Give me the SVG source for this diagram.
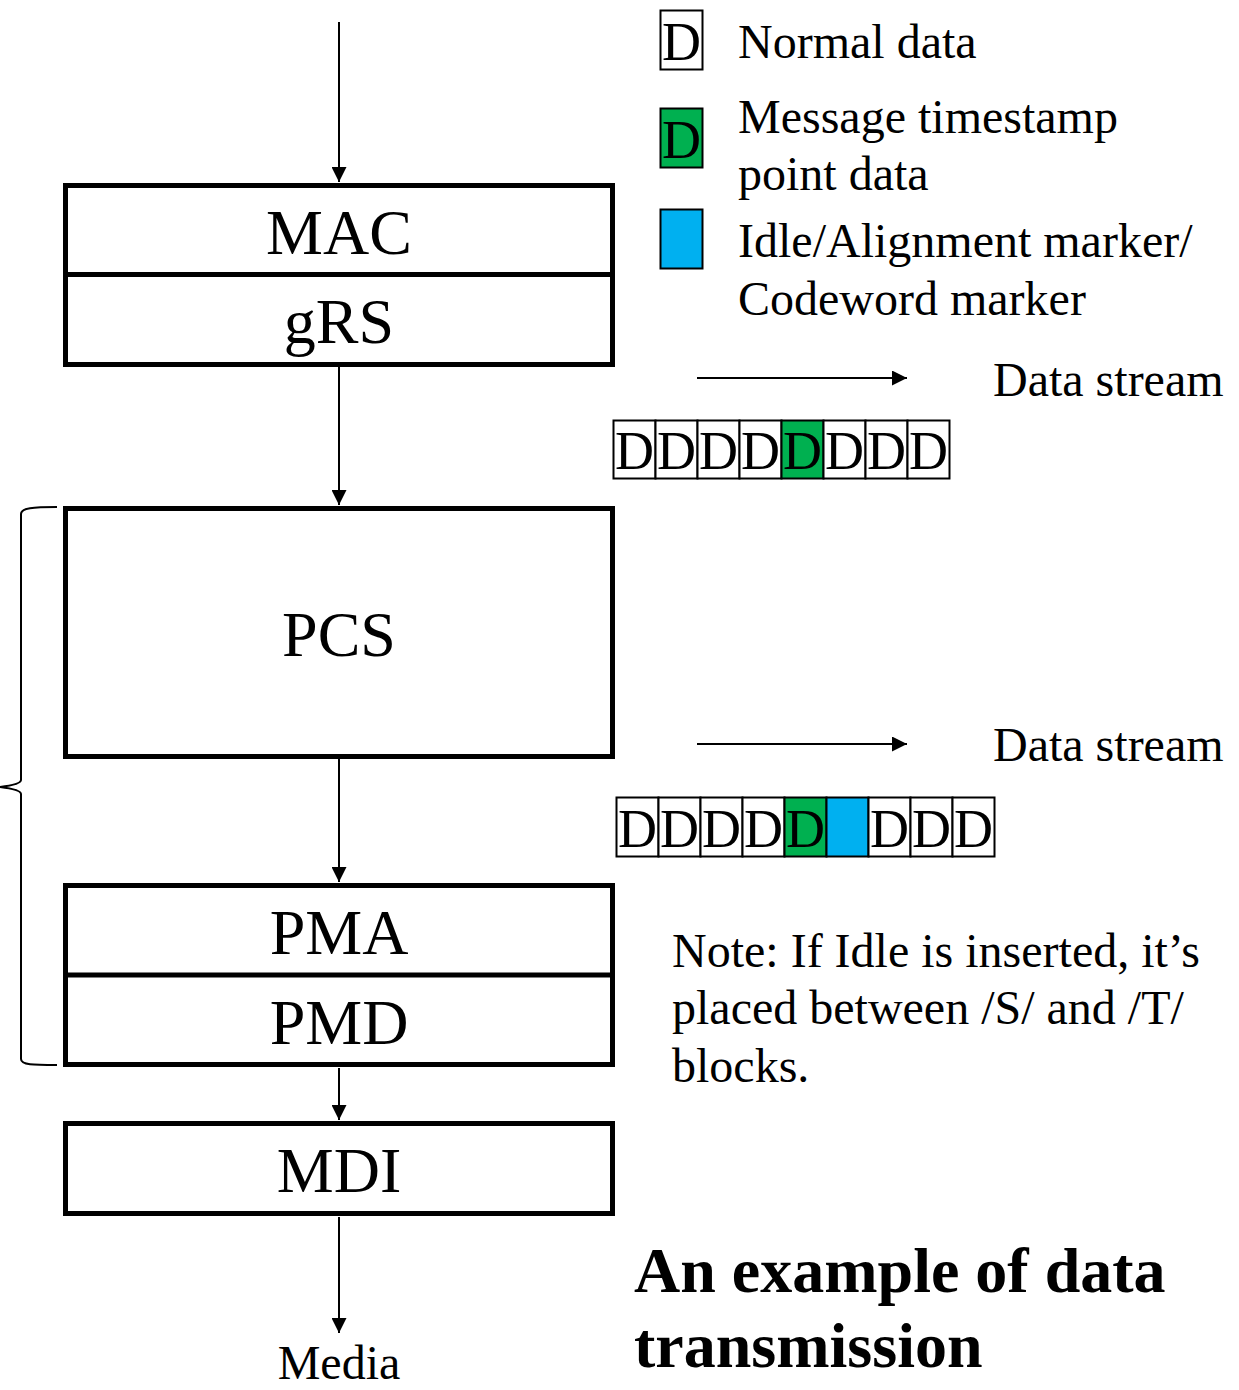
<svg xmlns="http://www.w3.org/2000/svg" width="1239" height="1390" viewBox="0 0 1239 1390">
  <style>
    text { font-family: "Liberation Serif", "Times New Roman", serif; fill: #000; }
    .layer { fill: #fff; stroke: #000; stroke-width: 5; }
    .div { stroke: #000; stroke-width: 5; }
    .lbl { font-size: 64px; text-anchor: middle; }
    .txt { font-size: 48px; }
    .cell { stroke: #000; stroke-width: 2; }
    .cd { font-size: 54px; text-anchor: middle; }
    .conn { stroke: #000; stroke-width: 2; fill: none; }
    .title { font-size: 64px; font-weight: bold; }
  </style>
  <defs>
    <marker id="ah" viewBox="0 0 10 10" refX="10" refY="5" markerWidth="7.5" markerHeight="7.5" markerUnits="strokeWidth" orient="auto">
      <path d="M0,0 L10,5 L0,10 Z" fill="#000"/>
    </marker>
  </defs>
  <rect width="1239" height="1390" fill="#fff"/>

  <!-- vertical links between the layers, plus the two stream-direction arrows -->
  <g id="connectors">
    <line class="conn" x1="339" y1="22" x2="339" y2="182" marker-end="url(#ah)"/>
    <line class="conn" x1="339" y1="366" x2="339" y2="505" marker-end="url(#ah)"/>
    <line class="conn" x1="339" y1="759" x2="339" y2="882" marker-end="url(#ah)"/>
    <line class="conn" x1="339" y1="1068" x2="339" y2="1120" marker-end="url(#ah)"/>
    <line class="conn" x1="339" y1="1217" x2="339" y2="1333" marker-end="url(#ah)"/>
    <line class="conn" x1="697" y1="378" x2="907" y2="378" marker-end="url(#ah)"/>
    <line class="conn" x1="697" y1="744" x2="907" y2="744" marker-end="url(#ah)"/>
  </g>

  <g id="mac-grs">
    <rect class="layer" x="65.5" y="185.5" width="547" height="179"/>
    <line class="div" x1="65.5" y1="274.5" x2="612.5" y2="274.5"/>
    <text class="lbl" x="339" y="254">MAC</text>
    <text class="lbl" x="339" y="343">gRS</text>
  </g>

  <g id="pcs">
    <rect class="layer" x="65.5" y="508.5" width="547" height="248"/>
    <text class="lbl" x="339" y="656">PCS</text>
  </g>

  <g id="pma-pmd">
    <rect class="layer" x="65.5" y="885.5" width="547" height="179"/>
    <line class="div" x1="65.5" y1="975" x2="612.5" y2="975"/>
    <text class="lbl" x="339" y="954">PMA</text>
    <text class="lbl" x="339" y="1044">PMD</text>
  </g>

  <g id="mdi">
    <rect class="layer" x="65.5" y="1123.5" width="547" height="90"/>
    <text class="lbl" x="339" y="1192">MDI</text>
  </g>

  <g id="media">
    <text x="339" y="1379" font-size="48" text-anchor="middle">Media</text>
  </g>

  <!-- brace grouping PCS, PMA and PMD -->
  <g id="brace">
    <path class="conn" stroke-width="1.6" d="M57,507 C33,507 21,508 21,514 L21,780 C21,784 8,786 0,787 C8,788 21,790 21,794 L21,1059 C21,1065 33,1065 57,1065"/>
  </g>

  <!-- legend -->
  <g id="legend">
    <rect class="cell" x="660.5" y="10.5" width="42" height="59" fill="#fff"/>
    <text class="cd" x="681.5" y="60">D</text>
    <text class="txt" x="738" y="58">Normal data</text>

    <rect class="cell" x="660.5" y="108.5" width="42" height="59" fill="#00B050"/>
    <text class="cd" x="681.5" y="158">D</text>
    <text class="txt" x="738" y="133">Message timestamp</text>
    <text class="txt" x="738" y="190">point data</text>

    <rect class="cell" x="660.5" y="209.5" width="42" height="59" fill="#00B0F0"/>
    <text class="txt" x="738" y="257">Idle/Alignment marker/</text>
    <text class="txt" x="738" y="315">Codeword marker</text>
  </g>

  <!-- stream after gRS -->
  <g id="stream-1">
    <text class="txt" x="993" y="396">Data stream</text>
    <g>
      <rect class="cell" x="613.5" y="420.5" width="42" height="58" fill="#fff"/>
      <rect class="cell" x="655.5" y="420.5" width="42" height="58" fill="#fff"/>
      <rect class="cell" x="697.5" y="420.5" width="42" height="58" fill="#fff"/>
      <rect class="cell" x="739.5" y="420.5" width="42" height="58" fill="#fff"/>
      <rect class="cell" x="781.5" y="420.5" width="42" height="58" fill="#00B050"/>
      <rect class="cell" x="823.5" y="420.5" width="42" height="58" fill="#fff"/>
      <rect class="cell" x="865.5" y="420.5" width="42" height="58" fill="#fff"/>
      <rect class="cell" x="907.5" y="420.5" width="42" height="58" fill="#fff"/>
    </g>
    <g>
      <text class="cd" x="634.5" y="469">D</text>
      <text class="cd" x="676.5" y="469">D</text>
      <text class="cd" x="718.5" y="469">D</text>
      <text class="cd" x="760.5" y="469">D</text>
      <text class="cd" x="802.5" y="469">D</text>
      <text class="cd" x="844.5" y="469">D</text>
      <text class="cd" x="886.5" y="469">D</text>
      <text class="cd" x="928.5" y="469">D</text>
    </g>
  </g>

  <!-- stream after PCS, with the inserted marker block -->
  <g id="stream-2">
    <text class="txt" x="993" y="761">Data stream</text>
    <g>
      <rect class="cell" x="616.5" y="797.5" width="42" height="59" fill="#fff"/>
      <rect class="cell" x="658.5" y="797.5" width="42" height="59" fill="#fff"/>
      <rect class="cell" x="700.5" y="797.5" width="42" height="59" fill="#fff"/>
      <rect class="cell" x="742.5" y="797.5" width="42" height="59" fill="#fff"/>
      <rect class="cell" x="784.5" y="797.5" width="42" height="59" fill="#00B050"/>
      <rect class="cell" x="826.5" y="797.5" width="42" height="59" fill="#00B0F0"/>
      <rect class="cell" x="868.5" y="797.5" width="42" height="59" fill="#fff"/>
      <rect class="cell" x="910.5" y="797.5" width="42" height="59" fill="#fff"/>
      <rect class="cell" x="952.5" y="797.5" width="42" height="59" fill="#fff"/>
    </g>
    <g>
      <text class="cd" x="637.5" y="847">D</text>
      <text class="cd" x="679.5" y="847">D</text>
      <text class="cd" x="721.5" y="847">D</text>
      <text class="cd" x="763.5" y="847">D</text>
      <text class="cd" x="805.5" y="847">D</text>
      <text class="cd" x="889.5" y="847">D</text>
      <text class="cd" x="931.5" y="847">D</text>
      <text class="cd" x="973.5" y="847">D</text>
    </g>
  </g>

  <g id="note">
    <text class="txt" x="672" y="967">Note: If Idle is inserted, it’s</text>
    <text class="txt" x="672" y="1024">placed between /S/ and /T/</text>
    <text class="txt" x="672" y="1082">blocks.</text>
  </g>

  <g id="title">
    <text class="title" x="634" y="1292">An example of data</text>
    <text class="title" x="634" y="1367">transmission</text>
  </g>
</svg>
